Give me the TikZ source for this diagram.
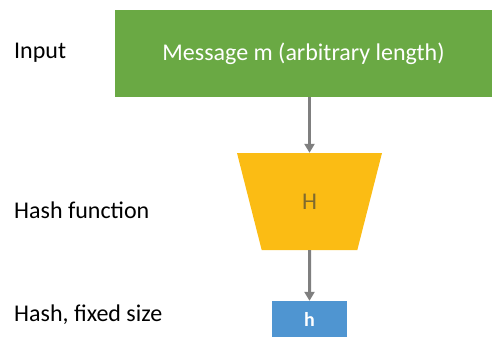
\documentclass[tikz,border=0pt]{standalone}
\usepackage{fontspec}
\setmainfont{Carlito}
\usetikzlibrary{arrows.meta,positioning,shapes.geometric}
\definecolor{msggreen}{HTML}{6AA944}
\definecolor{hashgold}{HTML}{FBBC14}
\definecolor{digestblue}{HTML}{4F95D1}
\definecolor{flowgray}{HTML}{7F7F7F}
\definecolor{hbrown}{HTML}{7F6A2E}
\tikzset{
    msgbox/.style ={
        shape=rectangle,
        fill=msggreen,
        text=white,
        minimum width=377pt,
        minimum height=87pt,
        font=\fontsize{24}{28}\selectfont
    },
    hashbox/.style ={
        shape=trapezium,
        shape border rotate=180,
        trapezium stretches=true,
        trapezium angle=75.8,
        fill=hashgold,
        text=hbrown,
        minimum width=145pt,
        minimum height=97pt,
        font=\fontsize{24}{28}\selectfont
    },
    digest/.style ={
        shape=rectangle,
        fill=digestblue,
        text=white,
        minimum width=75pt,
        minimum height=36pt,
        font=\fontsize{20}{24}\selectfont\bfseries
    },
    rowlabel/.style ={
        anchor=west,
        inner sep=0pt,
        font=\fontsize{24}{28}\selectfont
    },
    flow/.style ={
        draw=flowgray,
        line width=3pt,
        -{Triangle[width=10pt,length=9pt]}
    }
}

\begin{document}
\begin{tikzpicture}[x=1pt,y=-1pt]
    \useasboundingbox (0,0) rectangle (494,338);
    \node[msgbox] (msg) at (303.5,53.5) {Message m (arbitrary length)};
    \node[hashbox] (H) at (309.5,201.5) {H};
    \node[digest] (h) at (309.5,319) {h};
    \node[rowlabel] (input) at (14,53) {Input};
    \node[rowlabel] (func) at (14,210) {Hash function};
    \node[rowlabel] (size) at (14,315) {Hash, fixed size};
    \draw[flow] (msg.south -| H.north) -- (H.north);
    \draw[flow] (H.south) -- (h.north);
\end{tikzpicture}
\end{document}
